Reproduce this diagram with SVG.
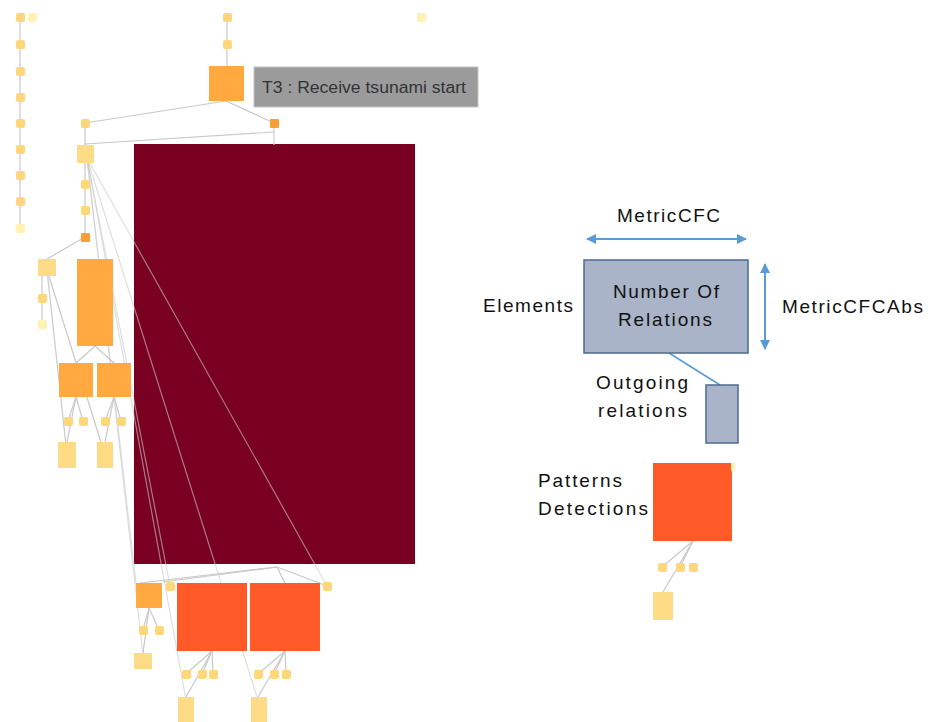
<svg xmlns="http://www.w3.org/2000/svg" width="928" height="722" viewBox="0 0 928 722">
<style>
.e{stroke:#c9c9c9;stroke-width:1.2;fill:none}
.f{stroke:#c9c9c9;stroke-width:1.2;fill:none;stroke-opacity:0.6}
.dot{fill:#fdd77a}
.pale{fill:#fff2b3}
.odot{fill:#f9a032}
.or{fill:#ffa940}
.rd{fill:#ff5a28}
.yb{fill:#fddc85}
.lg{font-family:"Liberation Sans",Arial,sans-serif;font-size:19px;fill:#111}
.ar{stroke:#5b9bd5;stroke-width:2;fill:none}
</style>
<defs>
<marker id="ah" viewBox="0 0 10 10" refX="9" refY="5" markerWidth="5" markerHeight="5" orient="auto-start-reverse">
<path d="M0,0 L10,5 L0,10 z" fill="#5b9bd5"/>
</marker>
</defs>
<rect width="928" height="722" fill="#fff"/>
<g id="maroon">
<rect x="134" y="144" width="281" height="420" fill="#7a0022"/>
</g>
<g id="connectors">
<line class="e" x1="20" y1="17" x2="20" y2="228"/>
<line class="e" x1="227" y1="17" x2="227" y2="66"/>
<line class="e" x1="226" y1="101" x2="85" y2="123"/>
<line class="e" x1="226" y1="101" x2="274" y2="123"/>
<line class="e" x1="85" y1="123" x2="85" y2="145"/>
<line class="e" x1="274" y1="123" x2="274" y2="145"/>
<line class="e" x1="85" y1="144" x2="274" y2="132"/>
<line class="e" x1="85" y1="163" x2="85" y2="237"/>
<line class="e" x1="85" y1="237" x2="47" y2="259"/>
<line class="e" x1="42" y1="276" x2="42" y2="324"/>
<line class="e" x1="95" y1="346" x2="76" y2="363"/>
<line class="e" x1="95" y1="346" x2="114" y2="363"/>
<line class="e" x1="76" y1="397" x2="68" y2="421"/>
<line class="e" x1="76" y1="397" x2="83" y2="421"/>
<line class="e" x1="76" y1="397" x2="67" y2="442"/>
<line class="e" x1="114" y1="397" x2="105" y2="421"/>
<line class="e" x1="114" y1="397" x2="121" y2="421"/>
<line class="e" x1="114" y1="397" x2="105" y2="442"/>
<line class="e" x1="47" y1="270" x2="67" y2="455"/>
<line class="e" x1="47" y1="270" x2="105" y2="455"/>
<line class="f" x1="87" y1="158" x2="136" y2="583"/>
<line class="f" x1="87" y1="158" x2="170" y2="586"/>
<line class="f" x1="87" y1="158" x2="186" y2="700"/>
<line class="f" x1="87" y1="158" x2="258" y2="700"/>
<line class="f" x1="87" y1="158" x2="327" y2="586"/>
<line class="f" x1="87" y1="158" x2="143" y2="655"/>
<line class="e" x1="140" y1="583" x2="277" y2="567"/>
<line class="e" x1="163" y1="582" x2="277" y2="567"/>
<line class="e" x1="277" y1="567" x2="285" y2="583"/>
<line class="e" x1="277" y1="567" x2="327" y2="586"/>
<line class="e" x1="149" y1="608" x2="143" y2="630"/>
<line class="e" x1="149" y1="608" x2="159" y2="630"/>
<line class="e" x1="149" y1="608" x2="143" y2="653"/>
<line class="e" x1="212" y1="651" x2="186" y2="674"/>
<line class="e" x1="212" y1="651" x2="202" y2="674"/>
<line class="e" x1="212" y1="651" x2="213" y2="674"/>
<line class="e" x1="212" y1="651" x2="186" y2="697"/>
<line class="e" x1="285" y1="651" x2="258" y2="674"/>
<line class="e" x1="285" y1="651" x2="274" y2="674"/>
<line class="e" x1="285" y1="651" x2="286" y2="674"/>
<line class="e" x1="285" y1="651" x2="258" y2="697"/>
<line class="e" x1="693" y1="541" x2="662" y2="567"/>
<line class="e" x1="693" y1="541" x2="680" y2="567"/>
<line class="e" x1="693" y1="541" x2="663" y2="592"/>
<line x1="669" y1="353" x2="720" y2="385" stroke="#5b9bd5" stroke-width="1.5"/>
<line class="ar" x1="587" y1="239" x2="746" y2="239" marker-start="url(#ah)" marker-end="url(#ah)"/>
<line class="ar" x1="765" y1="264" x2="765" y2="349" marker-start="url(#ah)" marker-end="url(#ah)"/>
</g>
<g id="col1">
<rect class="dot" x="16" y="13" width="9" height="9" rx="2"/>
<rect class="pale" x="28" y="13" width="9" height="9" rx="2"/>
<rect class="dot" x="16" y="40" width="9" height="9" rx="2"/>
<rect class="dot" x="16" y="67" width="9" height="9" rx="2"/>
<rect class="dot" x="16" y="93" width="9" height="9" rx="2"/>
<rect class="dot" x="16" y="119" width="9" height="9" rx="2"/>
<rect class="dot" x="16" y="145" width="9" height="9" rx="2"/>
<rect class="dot" x="16" y="171" width="9" height="9" rx="2"/>
<rect class="dot" x="16" y="197" width="9" height="9" rx="2"/>
<rect class="pale" x="16" y="224" width="9" height="9" rx="2"/>
</g>
<g id="col2">
<rect class="dot" x="223" y="13" width="9" height="9" rx="2"/>
<rect class="dot" x="223" y="40" width="9" height="9" rx="2"/>
<rect class="pale" x="417" y="13" width="9" height="9" rx="2"/>
</g>
<g id="t3">
<rect class="or" x="209" y="66" width="35" height="35"/>
<rect x="254" y="67" width="224" height="40" fill="#9b9b9b" stroke="#c4c4c4" stroke-width="1"/>
<text x="262" y="93" font-family="'Liberation Sans',Arial,sans-serif" font-size="16" fill="#333" textLength="204" lengthAdjust="spacingAndGlyphs">T3 : Receive tsunami start</text>
</g>
<g id="n-a">
<rect class="dot" x="81" y="119" width="9" height="9" rx="2"/>
<rect class="odot" x="270" y="119" width="9" height="9" rx="1"/>
</g>
<g id="n-b">
<rect class="yb" x="77" y="145" width="17" height="18"/>
<rect class="dot" x="81" y="180" width="9" height="9" rx="2"/>
<rect class="dot" x="81" y="206" width="9" height="9" rx="2"/>
<rect class="odot" x="81" y="233" width="9" height="9" rx="1"/>
</g>
<g id="n-c">
<rect class="yb" x="38" y="259" width="18" height="17"/>
<rect class="dot" x="38" y="294" width="9" height="9" rx="2"/>
<rect class="pale" x="38" y="320" width="9" height="9" rx="2"/>
</g>
<g id="n-d">
<rect class="or" x="77" y="259" width="36" height="87"/>
<rect class="or" x="59" y="363" width="34" height="34"/>
<rect class="or" x="97" y="363" width="34" height="34"/>
<rect class="dot" x="64" y="417" width="9" height="9" rx="2"/>
<rect class="dot" x="79" y="417" width="9" height="9" rx="2"/>
<rect class="dot" x="101" y="417" width="9" height="9" rx="2"/>
<rect class="dot" x="117" y="417" width="9" height="9" rx="2"/>
<rect class="yb" x="58" y="442" width="18" height="26"/>
<rect class="yb" x="97" y="442" width="16" height="26"/>
</g>
<g id="n-e">
<rect class="or" x="136" y="583" width="26" height="25"/>
<rect class="dot" x="166" y="582" width="9" height="9" rx="2"/>
<rect class="rd" x="177" y="583" width="70" height="68"/>
<rect class="rd" x="250" y="583" width="70" height="68"/>
<rect class="dot" x="323" y="582" width="9" height="9" rx="2"/>
<rect class="dot" x="139" y="626" width="9" height="9" rx="2"/>
<rect class="dot" x="155" y="626" width="9" height="9" rx="2"/>
<rect class="yb" x="134" y="653" width="18" height="16"/>
<rect class="dot" x="182" y="670" width="9" height="9" rx="2"/>
<rect class="dot" x="198" y="670" width="9" height="9" rx="2"/>
<rect class="dot" x="209" y="670" width="9" height="9" rx="2"/>
<rect class="dot" x="254" y="670" width="9" height="9" rx="2"/>
<rect class="dot" x="270" y="670" width="9" height="9" rx="2"/>
<rect class="dot" x="282" y="670" width="9" height="9" rx="2"/>
<rect class="yb" x="178" y="697" width="16" height="25"/>
<rect class="yb" x="251" y="697" width="16" height="25"/>
</g>
<g id="legend-metric">
<text class="lg" x="617" y="222" textLength="103" lengthAdjust="spacing">MetricCFC</text>
<rect x="584" y="260" width="164" height="93" fill="#a9b4c9" stroke="#4d6a92" stroke-width="1.5"/>
<text class="lg" x="613" y="298" textLength="106" lengthAdjust="spacing">Number Of</text>
<text class="lg" x="618" y="326" textLength="94" lengthAdjust="spacing">Relations</text>
<text class="lg" x="483" y="312" textLength="90" lengthAdjust="spacing">Elements</text>
<text class="lg" x="782" y="313" textLength="141" lengthAdjust="spacing">MetricCFCAbs</text>
</g>
<g id="legend-outgoing">
<rect x="706" y="385" width="32" height="58" fill="#a9b4c9" stroke="#4d6a92" stroke-width="1.5"/>
<text class="lg" x="596" y="389" textLength="92" lengthAdjust="spacing">Outgoing</text>
<text class="lg" x="598" y="417" textLength="89" lengthAdjust="spacing">relations</text>
</g>
<g id="legend-patterns">
<rect class="rd" x="653" y="463" width="79" height="78"/>
<rect class="pale" x="731" y="463" width="4" height="8"/>
<text class="lg" x="538" y="487" textLength="84" lengthAdjust="spacing">Patterns</text>
<text class="lg" x="538" y="515" textLength="110" lengthAdjust="spacing">Detections</text>
<rect class="dot" x="658" y="563" width="9" height="9" rx="2"/>
<rect class="dot" x="676" y="563" width="9" height="9" rx="2"/>
<rect class="dot" x="689" y="563" width="9" height="9" rx="2"/>
<rect class="yb" x="653" y="592" width="20" height="28"/>
</g>
</svg>
